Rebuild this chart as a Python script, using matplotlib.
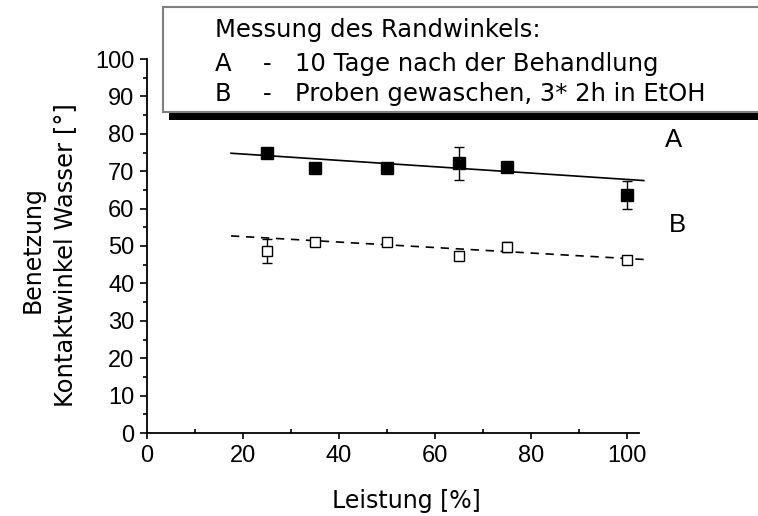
import matplotlib
matplotlib.use("Agg")
import matplotlib.pyplot as plt
from matplotlib.patches import Rectangle
from matplotlib.ticker import MultipleLocator

plt.rcParams['font.family'] = ['Liberation Sans', 'DejaVu Sans']
TXT = ['DejaVu Sans']

# Data
x = [25, 35, 50, 65, 75, 100]
a_vals = [74.8, 70.8, 70.8, 72.1, 71.2, 63.6]
a_err = [0.8, 0.5, 0.5, 4.5, 0.5, 3.75]
b_vals = [48.7, 51.1, 51.1, 47.3, 49.8, 46.3]
b_err = [3.3, 0.8, 0.9, 0.6, 1.3, 0.8]
fit_x = [17.5, 103.5]
fitA_y = [74.8, 67.5]
fitB_y = [52.7, 46.4]

legend_title = "Messung des Randwinkels:"
legend_keys = ["A", "B"]
legend_texts = ["10 Tage nach der Behandlung", "Proben gewaschen, 3* 2h in EtOH"]

W, H = 758, 516
fig = plt.figure(figsize=(W / 100, H / 100), dpi=100)
ax = fig.add_axes([147 / W, (H - 433) / H, 492 / W, 374 / H])

ax.plot(fit_x, fitA_y, color='black', lw=1.2, clip_on=False, zorder=2)
ax.plot(fit_x, fitB_y, color='black', lw=1.2, ls=(0, (5, 4)), clip_on=False, zorder=2)
ax.errorbar(x, a_vals, yerr=a_err, fmt='s', color='black', ms=8, mfc='black',
            mec='black', ecolor='black', elinewidth=1, capsize=3.5, capthick=1, zorder=3)
ax.errorbar(x, b_vals, yerr=b_err, fmt='s', color='black', ms=7.2, mfc='white',
            mec='black', mew=1, ecolor='black', elinewidth=1, capsize=3.5, capthick=1, zorder=3)

ax.set_xlim(0, 102.5)
ax.set_ylim(0, 100)
ax.spines['top'].set_visible(False)
ax.spines['right'].set_visible(False)
for s in ['left', 'bottom']:
    ax.spines[s].set_linewidth(1.3)
ax.xaxis.set_major_locator(MultipleLocator(20))
ax.xaxis.set_minor_locator(MultipleLocator(10))
ax.yaxis.set_major_locator(MultipleLocator(10))
ax.yaxis.set_minor_locator(MultipleLocator(5))
ax.tick_params(axis='x', which='major', direction='out', length=4, width=1.2, labelsize=17, pad=5)
ax.tick_params(axis='x', which='minor', direction='in', length=3, width=1.2)
ax.tick_params(axis='y', which='major', direction='out', length=5, width=1.2, labelsize=17, pad=4)
ax.tick_params(axis='y', which='minor', direction='out', length=3, width=1.2)

ax.text(109.6, 78.3, "A", fontsize=18.5, ha='center', va='center', clip_on=False)
ax.text(110.6, 55.6, "B", fontsize=18.5, ha='center', va='center', clip_on=False)

fig.text(406 / W, 1 - 508 / H, "Leistung [%]", fontsize=17, family=TXT,
         ha='center', va='baseline')
fig.text(33 / W, 1 - 250 / H, "Benetzung", fontsize=17, family=TXT, rotation=90,
         ha='center', va='center')
fig.text(65 / W, 1 - 255 / H, "Kontaktwinkel Wasser [°]", fontsize=17.5, family=TXT,
         rotation=90, ha='center', va='center')

# Legend box with shadow
shadow = Rectangle((169 / W, 1 - 120 / H), (W + 20 - 169) / W, 9 / H,
                   transform=fig.transFigure, facecolor='black', edgecolor='none', zorder=10)
box = Rectangle((163 / W, 1 - 112 / H), (W + 20 - 163) / W, 105 / H,
                transform=fig.transFigure, facecolor='white', edgecolor='#808080',
                lw=1.5, zorder=11)
fig.add_artist(shadow)
fig.add_artist(box)

fig.text(215 / W, 1 - 37 / H, legend_title, fontsize=17.5, family=TXT,
         va='baseline', ha='left', zorder=12)
for i, (k, t) in enumerate(zip(legend_keys, legend_texts)):
    yb = 1 - (71 + 30 * i) / H
    fig.text(215 / W, yb, k, fontsize=17.5, family=TXT, va='baseline', ha='left', zorder=12)
    fig.text(263 / W, yb, "-", fontsize=17.5, family=TXT, va='baseline', ha='left', zorder=12)
    fig.text(295 / W, yb, t, fontsize=17.5, family=TXT, va='baseline', ha='left', zorder=12)

fig.savefig("out.png", dpi=100)
